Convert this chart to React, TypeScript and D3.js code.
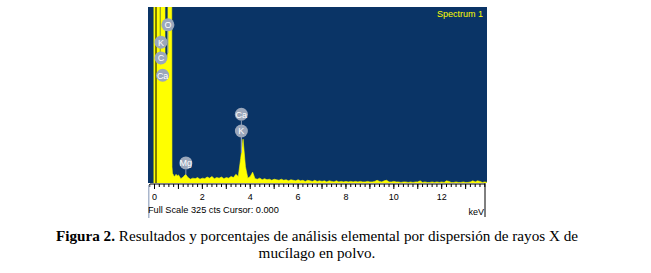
import React from "react";
import * as d3 from "d3";

// ---- data ----
const energyKeV: number[] = [
  -0.04, 0.0, 0.05, 0.1, 0.15, 0.19, 0.22, 0.26, 0.29, 0.33, 0.38, 0.42, 0.44, 0.5, 0.56, 0.58, 0.65, 0.7, 0.73, 0.75, 0.8, 0.85, 0.9, 0.95, 1.0,
  1.1, 1.2, 1.3, 1.4, 1.5, 1.6, 1.7, 1.8, 1.9, 2.0,
  2.1, 2.2, 2.3, 2.4, 2.5, 2.6, 2.7, 2.8, 2.9, 3.0,
  3.1, 3.2, 3.3, 3.4, 3.5, 3.6, 3.7, 3.8, 3.9, 4.0,
  4.1, 4.2, 4.3, 4.4, 4.5, 4.6, 4.7, 4.8, 4.9, 5.0,
  5.1, 5.2, 5.3, 5.4, 5.5, 5.6, 5.7, 5.8, 5.9, 6.0,
  6.1, 6.2, 6.3, 6.4, 6.5, 6.6, 6.7, 6.8, 6.9, 7.0,
  7.1, 7.2, 7.3, 7.4, 7.5, 7.6, 7.7, 7.8, 7.9, 8.0,
  8.1, 8.2, 8.3, 8.4, 8.5, 8.6, 8.7, 8.8, 8.9, 9.0,
  9.1, 9.2, 9.3, 9.4, 9.5, 9.6, 9.7, 9.8, 9.9, 10.0,
  10.1, 10.2, 10.3, 10.4, 10.5, 10.6, 10.7, 10.8, 10.9, 11.0,
  11.1, 11.2, 11.3, 11.4, 11.5, 11.6, 11.7, 11.8, 11.9, 12.0,
  12.1, 12.2, 12.3, 12.4, 12.5, 12.6, 12.7, 12.8, 12.9, 13.0,
  13.1, 13.2, 13.3, 13.4, 13.5, 13.6, 13.7, 13.8, 13.9,
];
const counts: number[] = [
  1000, 1000, 1000, 1000, 1000, 1000, 230, 215, 1000, 1000, 1000, 1000, 235, 225, 240, 1000, 1000, 1000, 30, 18, 14, 12, 16, 13, 15,
  8, 11, 16, 10, 7, 9, 8, 10, 7, 9,
  8, 11, 9, 12, 8, 10, 9, 11, 8, 10,
  9, 12, 10, 16, 12, 45, 81, 30, 9, 12,
  20, 8, 7, 9, 6, 8, 6, 7, 5, 7,
  6, 5, 7, 5, 6, 4, 6, 5, 4, 6,
  4, 5, 3, 5, 4, 3, 5, 3, 4, 3,
  4, 2, 4, 3, 2, 4, 2, 3, 2, 3,
  2, 3, 2, 3, 2, 3, 2, 2, 3, 2,
  2, 3, 5, 3, 2, 4, 5, 2, 2, 3,
  2, 2, 1, 2, 2, 1, 2, 1, 2, 2,
  4, 1, 2, 1, 1, 2, 1, 2, 1, 2,
  1, 4, 3, 1, 1, 2, 1, 1, 2, 1,
  1, 2, 4, 2, 4, 3, 1, 2, 1,
];

const labelNames: string[] = ["O", "K", "C", "Ca", "Mg", "Ca", "K"];
const labelKeV: number[] = [0.56, 0.27, 0.27, 0.34, 1.31, 3.63, 3.63];
const labelCounts: number[] = [292, 260, 231, 199, 37, 127, 96];

const xTickMajor: number[] = [0, 2, 4, 6, 8, 10, 12];
const fullScale = 325;
const cursorKeV = 0.0;

const W = 651;
const H = 273;

export default function App() {
  const left = 148, right = 487, top = 7, bottom = 183;
  const xt = d3.scaleLinear().domain([0, 12]).range([154.5, 441.7]);
  const y = d3.scaleLinear().domain([0, fullScale]).range([bottom, top]);

  const pts = energyKeV.map((e, i) => [e, counts[i]] as [number, number]);
  const area = d3
    .area<[number, number]>()
    .x((d) => xt(d[0]))
    .y0(bottom)
    .y1((d) => y(d[1]));
  const line = d3
    .line<[number, number]>()
    .x((d) => xt(d[0]))
    .y((d) => y(d[1]));

  const interp = (e: number) => {
    const i = d3.bisector((d: [number, number]) => d[0]).left(pts, e);
    if (i <= 0) return pts[0][1];
    if (i >= pts.length) return pts[pts.length - 1][1];
    const a = pts[i - 1], b = pts[i];
    const t = (e - a[0]) / (b[0] - a[0]);
    return a[1] + t * (b[1] - a[1]);
  };

  const minor = d3.range(-0.2, 13.81, 0.2);
  const major = d3.range(0, 14, 1);
  const r = 6.5;

  return (
    <svg
      width={W}
      height={H}
      viewBox={`0 0 ${W} ${H}`}
      style={{ position: "absolute", left: 0, top: 0, background: "#ffffff" }}
      fontFamily="'Liberation Sans', Arial, sans-serif"
    >
      <defs>
        <clipPath id="plotClip">
          <rect x={left} y={top} width={right - left} height={bottom - top} />
        </clipPath>
        <linearGradient id="fadeLine" x1="0" y1="0" x2="0" y2="1">
          <stop offset="0%" stopColor="#8f9cb3" stopOpacity={1} />
          <stop offset="100%" stopColor="#8f9cb3" stopOpacity={0} />
        </linearGradient>
      </defs>
      <rect x={0} y={0} width={W} height={H} fill="#ffffff" />
      <rect x={left} y={top} width={right - left} height={bottom - top} fill="#0a3466" />

      <g clipPath="url(#plotClip)">
        <path d={area(pts) || ""} fill="#ffff00" />
        <path d={line(pts) || ""} fill="none" stroke="#ffff00" strokeWidth={0.6} />
        <line
          x1={xt(cursorKeV) + 1.5}
          x2={xt(cursorKeV) + 1.5}
          y1={top}
          y2={bottom}
          stroke="#000000"
          strokeWidth={1}
        />
        {labelNames.map((n, i) => {
          const cx = xt(labelKeV[i]);
          const cy = y(labelCounts[i]);
          const v = interp(labelKeV[i]);
          const offScale = v >= fullScale;
          const yEnd = offScale ? bottom - 4 : y(v);
          return (
            <line
              key={"l" + i}
              x1={cx}
              x2={cx}
              y1={cy + r}
              y2={yEnd}
              stroke={offScale ? "url(#fadeLine)" : "#8f9cb3"}
              strokeWidth={1}
              opacity={offScale ? 0.7 : 1}
            />
          );
        })}
        {labelNames.map((n, i) => {
          const cx = xt(labelKeV[i]);
          const cy = y(labelCounts[i]);
          return (
            <g key={"c" + i}>
              <circle cx={cx} cy={cy} r={r} fill="#9ba7bb" />
              <text
                x={cx}
                y={cy + 3.3}
                textAnchor="middle"
                fontSize={9}
                fill="#ffffff"
              >
                {n}
              </text>
            </g>
          );
        })}
      </g>

      <text x={483} y={17} textAnchor="end" fontSize={9} fill="#ffff00">
        Spectrum 1
      </text>

      {/* axis */}
      <line x1={150} x2={485} y1={184} y2={184} stroke="#000" strokeWidth={1} />
      {minor.map((k, i) => (
        <line key={"m" + i} x1={xt(k)} x2={xt(k)} y1={184} y2={187} stroke="#000" strokeWidth={1} />
      ))}
      {major.map((k, i) => (
        <line key={"M" + i} x1={xt(k)} x2={xt(k)} y1={184} y2={189} stroke="#000" strokeWidth={1} />
      ))}
      {xTickMajor.map((k) => (
        <text key={"t" + k} x={xt(k)} y={200} textAnchor="middle" fontSize={9} fill="#000">
          {k}
        </text>
      ))}
      <rect x={148} y={185} width={1.5} height={33} fill="#a9b6cc" />
      <line x1={485} x2={485} y1={183} y2={217} stroke="#000" strokeWidth={1} />
      <text x={148} y={213} fontSize={9.2} fill="#000">
        Full Scale {fullScale} cts Cursor: {cursorKeV.toFixed(3)}
      </text>
      <text x={484} y={214.5} textAnchor="end" fontSize={9} fill="#000">
        keV
      </text>

      {/* caption */}
      <g fontFamily="'Liberation Serif', 'Times New Roman', serif" fontSize={15.2} fill="#000">
        <text x={317} y={241} textAnchor="middle">
          <tspan fontWeight="bold">Figura 2.</tspan> Resultados y porcentajes de análisis elemental por dispersión de rayos X de
        </text>
        <text x={317} y={258} textAnchor="middle">
          mucílago en polvo.
        </text>
      </g>
    </svg>
  );
}
